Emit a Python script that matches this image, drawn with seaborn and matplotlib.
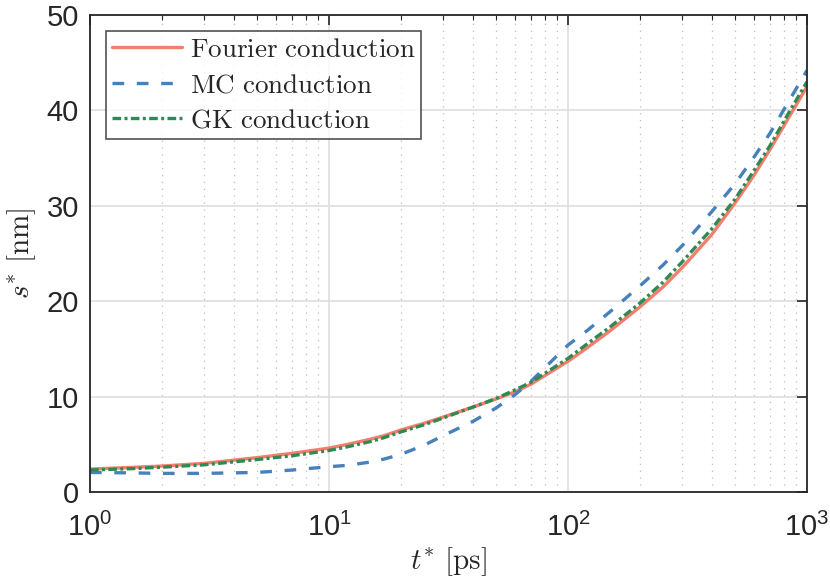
import numpy as np
import matplotlib
matplotlib.use("Agg")
import matplotlib.pyplot as plt
import seaborn as sns
from matplotlib.ticker import LogLocator, NullFormatter

# values (t* in ps, s* in nm)
t_star = [1, 1.5, 2, 3, 5, 7, 10, 12, 15, 17, 20, 25, 30, 40, 50, 60, 70, 100, 120, 150, 200,
          250, 300, 400, 500, 600, 700, 850, 1000]
s_fourier = [2.4, 2.58, 2.72, 3.0, 3.6, 4.05, 4.6, 5.0, 5.55, 5.9, 6.5, 7.2, 7.85, 8.9, 9.75,
             10.5, 11.3, 13.7, 15.1, 16.9, 19.4, 21.5, 23.5, 27.0, 30.3, 33.2, 35.9, 39.5, 42.5]
s_mc = [2.05, 2.0, 1.95, 1.95, 2.05, 2.3, 2.65, 2.8, 3.15, 3.45, 3.95, 4.9, 5.9, 7.4, 8.8,
        10.2, 11.6, 15.4, 16.9, 18.9, 21.6, 23.8, 25.8, 29.4, 32.3, 35.1, 37.6, 41.2, 44.2]
s_gk = [2.3, 2.45, 2.6, 2.85, 3.4, 3.8, 4.35, 4.75, 5.3, 5.7, 6.3, 7.05, 7.75, 8.9, 9.8,
        10.7, 11.5, 14.0, 15.5, 17.3, 19.8, 22.0, 24.1, 27.6, 30.7, 33.7, 36.3, 40.0, 43.0]

labels = [r"$\mathrm{Fourier\ conduction}$", r"$\mathrm{MC\ conduction}$", r"$\mathrm{GK\ conduction}$"]
colors = ["#F47E6C", "#4681BB", "#2E8A52"]

sns.set_theme(style="white")
plt.rcParams["font.family"] = ["Liberation Sans", "DejaVu Sans"]
plt.rcParams["mathtext.fontset"] = "cm"

fig = plt.figure(figsize=(8.3, 5.83), dpi=100)
ax = fig.add_axes([0.1084, 0.1561, 0.8639, 0.8182])

sns.lineplot(x=t_star, y=s_fourier, ax=ax, color=colors[0], lw=2.4, label=labels[0])
sns.lineplot(x=t_star, y=s_mc, ax=ax, color=colors[1], lw=2.4, label=labels[1])
sns.lineplot(x=t_star, y=s_gk, ax=ax, color=colors[2], lw=2.4, label=labels[2])
ax.lines[1].set_dashes([3.5, 3.8])
ax.lines[2].set_dashes([2.6, 1.0, 0.9, 1.0])

ax.set_xscale("log")
ax.set_xlim(1, 1000)
ax.set_ylim(0, 50)
ax.set_yticks([0, 10, 20, 30, 40, 50])
ax.xaxis.set_minor_locator(LogLocator(base=10, subs=np.arange(2, 10)))
ax.xaxis.set_minor_formatter(NullFormatter())

ax.grid(True, which="major", color="#dedede", lw=1.2, ls="-")
ax.grid(True, which="minor", axis="x", color="#bdbdbd", lw=0.9, ls=(0, (1, 4.5)))
ax.set_axisbelow(True)

for sp in ax.spines.values():
    sp.set_color("#262626")
    sp.set_linewidth(1.3)

ax.tick_params(which="both", direction="in", top=True, right=True, colors="#262626")
ax.tick_params(which="major", length=7, width=1.2, labelsize=21)
ax.tick_params(axis="x", which="major", pad=15)
ax.tick_params(axis="y", which="major", pad=8)
ax.tick_params(which="minor", length=3.5, width=0.8)

ax.set_xlabel(r"$t^{*}\ [\mathrm{ps}]$", fontsize=21, labelpad=2)
ax.set_ylabel(r"$s^{*}\ [\mathrm{nm}]$", fontsize=21, labelpad=6)

leg = ax.legend(loc="upper left", fontsize=19.5, frameon=True, fancybox=False,
                borderpad=0.2, handlelength=2.6, handletextpad=0.3,
                labelspacing=0.35, borderaxespad=0.6)
leg.get_frame().set_edgecolor("#262626")
leg.get_frame().set_linewidth(1.2)

fig.savefig("out.png", dpi=100)
